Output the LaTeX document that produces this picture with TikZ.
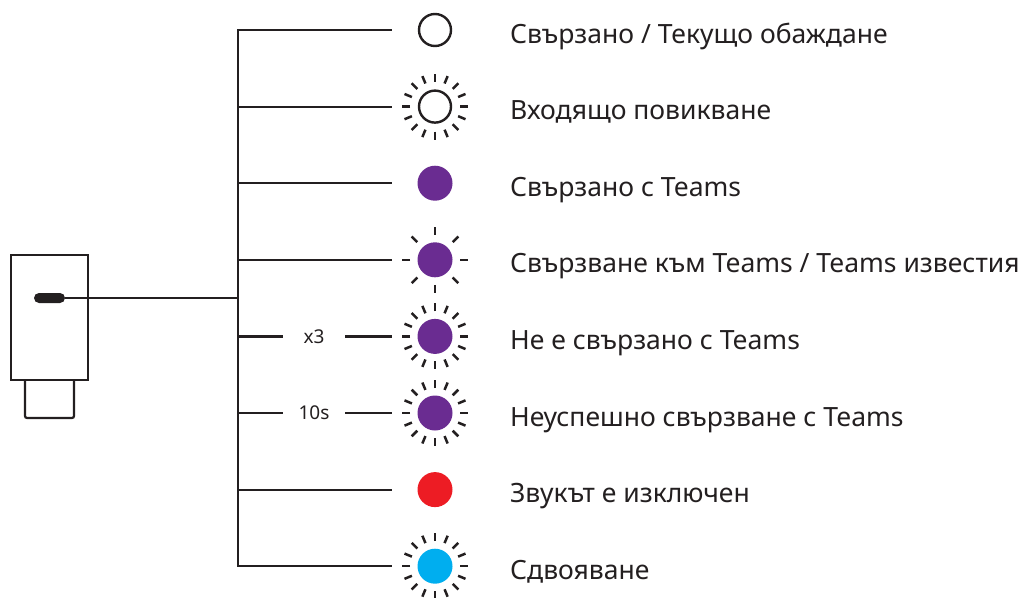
\documentclass[tikz,border=0pt]{standalone}
\usepackage{fontspec}
\setmainfont[Language=Bulgarian]{Noto Sans}
\usetikzlibrary{positioning}
\definecolor{ink}{HTML}{231F20}
\definecolor{ledpurple}{HTML}{6A2C91}
\definecolor{ledred}{HTML}{ED1C24}
\definecolor{ledblue}{HTML}{00AEEF}
\tikzset{
    wire/.style={ink, line width=2.2pt},
    branch/.style={wire, shorten >=25.5pt},
    ledoff/.style={circle, draw=ink, line width=2.4pt, minimum size=32pt, inner sep=0pt},
    ledon/.style={circle, minimum size=35pt, inner sep=0pt},
    ray/.style={ink, line width=2.5pt},
    pill/.style={rectangle, rounded corners=5pt, fill=ink, minimum width=31pt, minimum height=10pt, inner sep=0pt},
    status/.style={anchor=base west, inner sep=0pt, text=ink, font=\fontsize{26.5}{30}\selectfont},
    count/.style={minimum width=62pt, inner sep=0pt, text=ink, font=\fontsize{19}{22}\selectfont},
}

\begin{document}
\begin{tikzpicture}[x=1pt,y=-1pt]
    \useasboundingbox (0,0) rectangle (1032,597);

    % Device
    \draw[wire] (11,255) rectangle (88,380);
    \draw[wire, rounded corners=2pt] (25,380) -- (25,418) -- (74,418) -- (74,380);
    \node[pill] (pill) at (49.5,298) {};

    % Status LEDs
    \node[ledoff] (led1) at (435,30) {};
    \node[ledoff] (led2) at (435,106.6) {};
    \node[ledon, fill=ledpurple] (led3) at (435,183.2) {};
    \node[ledon, fill=ledpurple] (led4) at (435,259.8) {};
    \node[ledon, fill=ledpurple] (led5) at (435,336.4) {};
    \node[ledon, fill=ledpurple] (led6) at (435,413) {};
    \node[ledon, fill=ledred] (led7) at (435,489.6) {};
    \node[ledon, fill=ledblue] (led8) at (435,566.2) {};

    % Blinking rays
    \foreach \n in {led2,led5,led6,led8}
        \foreach \a in {0,22.5,...,337.5}
            \draw[ray] (\n.center) ++(\a:25) -- ++(\a:8);
    \foreach \a in {0,45,...,315}
        \draw[ray] (led4.center) ++(\a:25) -- ++(\a:8);

    % Labels
    \node[status] (txt1) at (510,43) {Свързано / Текущо обаждане};
    \node[status] (txt2) at (510,119.6) {Входящо повикване};
    \node[status] (txt3) at (510,196.2) {Свързано с Teams};
    \node[status] (txt4) at (510,272.8) {Свързване към Teams / Teams известия};
    \node[status] (txt5) at (510,349.4) {Не е свързано с Teams};
    \node[status] (txt6) at (510,426) {Неуспешно свързване с Teams};
    \node[status] (txt7) at (510,502.6) {Звукът е изключен};
    \node[status] (txt8) at (510,579.2) {Сдвояване};

    \node[count] (cnt5) at (314,336.4) {x3};
    \node[count] (cnt6) at (314,413) {10s};

    % Wiring
    \coordinate (hub) at (238,298);
    \foreach \i/\y in {1/30,2/106.6,3/183.2,4/259.8,5/336.4,6/413,7/489.6,8/566.2}
        \coordinate (br\i) at (238,\y);
    \draw[wire] (pill) -- (hub);
    \draw[wire, line cap=rect] (br1) -- (br8);
    \foreach \i in {1,2,3,4,7,8}
        \draw[branch] (br\i) -- (led\i);
    \draw[branch] (br5) -- (cnt5) -- (led5);
    \draw[branch] (br6) -- (cnt6) -- (led6);
\end{tikzpicture}
\end{document}
